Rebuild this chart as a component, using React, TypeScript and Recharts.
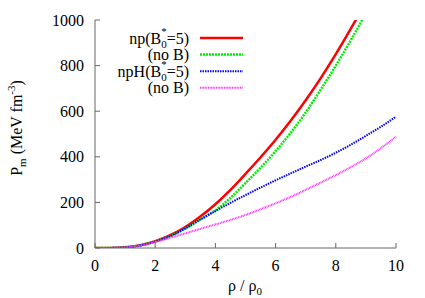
import React from 'react';
import { LineChart, Line, XAxis, YAxis } from 'recharts';

const rho = [0, 0.5, 1, 1.5, 2, 2.5, 3, 3.5, 4, 4.5, 5, 5.5, 6, 6.5, 7, 7.5, 8, 8.5, 9, 9.5, 10];
const npB = [0, 0.4, 3, 12, 30, 56, 92, 138, 192, 255, 325, 398, 475, 558, 648, 745, 850, 962, 1080, 1205, 1335];
const npNoB = [0, 0.4, 3, 11, 28, 52, 85, 125, 165, 220, 285, 352, 425, 505, 595, 695, 800, 912, 1030, 1155, 1285];
const npHB = [0, 0.4, 3, 11, 28, 52, 86, 125, 162, 198, 232, 265, 297, 327, 357, 386, 418, 453, 492, 532, 576];
const npHNoB = [0, 0.4, 3, 11, 26, 45, 64, 84, 103, 123, 145, 170, 196, 224, 255, 287, 320, 355, 393, 438, 488];

const xTicks = [0, 2, 4, 6, 8, 10];
const yTicks = [0, 200, 400, 600, 800, 1000];

const data = rho.map((r, i) => ({
  rho: r,
  npB: npB[i],
  npNoB: npNoB[i],
  npHB: npHB[i],
  npHNoB: npHNoB[i],
}));

const FONT = "'Liberation Serif', 'Times New Roman', Tinos, 'DejaVu Serif', serif";
const FRAME = '#666666';

const series = [
  { key: 'npB', color: '#ff0000', width: 2.5, dash: undefined as string | undefined },
  { key: 'npNoB', color: '#00ee00', width: 2.5, dash: '2 1' },
  { key: 'npHB', color: '#0000ff', width: 2, dash: '1.5 1' },
  { key: 'npHNoB', color: '#ff33ff', width: 2, dash: '1 0.6' },
];

export default function App() {
  const tickStyle = { fontFamily: FONT, fontSize: 16, fill: '#000', style: { fontFamily: FONT } };
  return (
    <div style={{ position: 'absolute', left: 0, top: 0, width: 425, height: 298, fontFamily: FONT }}>
      <LineChart
        width={425}
        height={298}
        data={data}
        margin={{ top: 20, right: 29, bottom: 20, left: 0 }}
        style={{ fontFamily: FONT }}
      >
        <XAxis
          xAxisId="b"
          dataKey="rho"
          type="number"
          domain={[0, 10]}
          ticks={xTicks}
          height={30}
          stroke={FRAME}
          tickSize={-5}
          tickMargin={16.5}
          tick={tickStyle}
        />
        <XAxis
          xAxisId="t"
          dataKey="rho"
          type="number"
          orientation="top"
          domain={[0, 10]}
          ticks={xTicks}
          height={0}
          stroke={FRAME}
          tickSize={-5}
          tickFormatter={() => ''}
        />
        <YAxis
          yAxisId="l"
          type="number"
          domain={[0, 1000]}
          ticks={yTicks}
          allowDataOverflow
          width={95}
          stroke={FRAME}
          tickSize={-5}
          tickMargin={16}
          tick={tickStyle}
        />
        <YAxis
          yAxisId="r"
          type="number"
          orientation="right"
          domain={[0, 1000]}
          ticks={yTicks}
          allowDataOverflow
          width={0}
          stroke={FRAME}
          tickSize={-5}
          tickFormatter={() => ''}
        />
        {series.map((s) => (
          <Line
            key={s.key}
            xAxisId="b"
            yAxisId="l"
            type="monotone"
            dataKey={s.key}
            stroke={s.color}
            strokeWidth={s.width}
            strokeDasharray={s.dash}
            dot={false}
            activeDot={false}
            isAnimationActive={false}
          />
        ))}
      </LineChart>
      <svg
        width={425}
        height={298}
        style={{ position: 'absolute', left: 0, top: 0, pointerEvents: 'none', fontFamily: FONT }}
      >
        {/* Axis titles */}
        <text
          x={0}
          y={0}
          transform="translate(22,128) rotate(-90)"
          textAnchor="middle"
          fontSize={16}
        >
          <tspan>P</tspan>
          <tspan fontSize={11} dy={4}>m</tspan>
          <tspan dy={-4}> (MeV fm</tspan>
          <tspan fontSize={11} dy={-7}>-3</tspan>
          <tspan dy={7}>)</tspan>
        </text>
        <text x={245} y={291} textAnchor="middle" fontSize={16}>
          <tspan>ρ / ρ</tspan>
          <tspan fontSize={11} dy={4}>0</tspan>
        </text>
        {/* Legend */}
        <text x={189} y={43.5} textAnchor="end" fontSize={16}>
          <tspan>np(B</tspan>
          <tspan fontSize={11} dy={4}>0</tspan>
          <tspan fontSize={11} dx={-5.5} dy={-13}>*</tspan>
          <tspan dy={9}>=5)</tspan>
        </text>
        <text x={189} y={60} textAnchor="end" fontSize={16}>(no B)</text>
        <text x={189} y={76.5} textAnchor="end" fontSize={16}>
          <tspan>npH(B</tspan>
          <tspan fontSize={11} dy={4}>0</tspan>
          <tspan fontSize={11} dx={-5.5} dy={-13}>*</tspan>
          <tspan dy={9}>=5)</tspan>
        </text>
        <text x={189} y={93} textAnchor="end" fontSize={16}>(no B)</text>
        {series.map((s, i) => (
          <line
            key={s.key}
            x1={200}
            x2={243}
            y1={38 + i * 16.6}
            y2={38 + i * 16.6}
            stroke={s.color}
            strokeWidth={s.width}
            strokeDasharray={s.dash}
          />
        ))}
      </svg>
    </div>
  );
}
